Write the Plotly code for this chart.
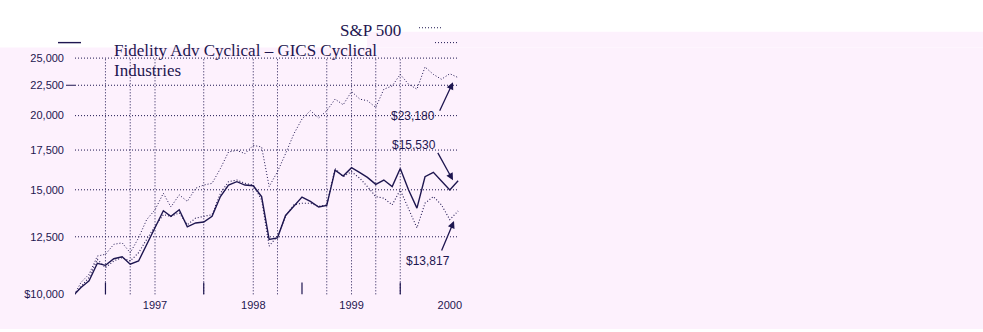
import pandas as pd
import plotly.graph_objects as go

# ---------------- data ----------------
dates = ["1996-03-08",
         "1996-04-01", "1996-05-01", "1996-06-01", "1996-07-01", "1996-08-01", "1996-09-01",
         "1996-10-01", "1996-11-01", "1996-12-01",
         "1997-01-01", "1997-02-01", "1997-03-01", "1997-04-01", "1997-05-01", "1997-06-01",
         "1997-07-01", "1997-08-01", "1997-09-01", "1997-10-01", "1997-11-01", "1997-12-01",
         "1998-01-01", "1998-02-01", "1998-03-01", "1998-04-01", "1998-05-01", "1998-06-01",
         "1998-07-01", "1998-08-01", "1998-09-01", "1998-10-01", "1998-11-01", "1998-12-01",
         "1999-01-01", "1999-02-01", "1999-03-01", "1999-04-01", "1999-05-01", "1999-06-01",
         "1999-07-01", "1999-08-01", "1999-09-01", "1999-10-01", "1999-11-01", "1999-12-01",
         "2000-01-01", "2000-02-01"]

sp500 = [10000, 10470, 10810, 11600, 11680, 12140, 12210, 11750, 12450, 13360,
         13880, 14800, 14030, 14710, 14340, 15090, 15280, 15380, 16290, 17370, 17480, 17260,
         17820, 17710, 15190, 16090, 17260, 18640, 19740, 20390, 19820, 20390, 21320, 20860,
         21960, 21320, 21190, 20650, 22160, 22440, 23470, 22590, 22160, 24150, 23470, 23030,
         23530, 23180]

fidelity = [10000, 10270, 10540, 11280, 11190, 11480, 11570, 11240, 11380, 12140,
            12940, 13830, 13530, 13880, 12990, 13190, 13240, 13530, 14610, 15280, 15480, 15280,
            15240, 14610, 12370, 12450, 13580, 14060, 14580, 14340, 14030, 14120, 16190, 15820,
            16340, 16030, 15740, 15320, 15580, 15190, 16290, 14990, 13970, 15780, 16050, 15520,
            14990, 15530]

gics = [10000, 10300, 10680, 11450, 11090, 11380, 11530, 11380, 11750, 12370,
        13020, 13620, 13530, 13710, 13100, 13440, 13530, 13620, 14800, 15480, 15580, 15380,
        15280, 14430, 12060, 12530, 13530, 14150, 14240, 14240, 14060, 14150, 16290, 15780,
        16090, 15680, 15190, 14610, 14520, 14150, 14990, 13880, 12940, 14240, 14610, 14150,
        13360, 13817]

y_ticks = [10000, 12500, 15000, 17500, 20000, 22500, 25000]
y_ticktext = ["$10,000", "12,500", "15,000", "17,500", "20,000", "22,500", "25,000"]
x_ticks = ["1997-01-01", "1998-01-01", "1999-01-01", "2000-01-01"]
x_ticktext = ["1997", "1998", "1999", "2000"]
grid_dates = ["1996-07-01", "1996-10-01", "1997-01-01", "1997-07-01", "1998-01-01",
              "1998-04-01", "1998-10-01", "1999-01-01", "1999-04-01", "1999-07-01"]
mark_dates = ["1996-07-01", "1997-07-01", "1998-07-01", "1999-07-01"]
end_labels = ["$23,180", "$15,530", "$13,817"]
legend_top = "S&P 500"
legend_main = "Fidelity Adv Cyclical \u2013 GICS Cyclical"
legend_second = "Industries"

# ---------------- layout geometry ----------------
W, H = 983, 332
NAVY = "#1e1650"
PINK = "#fdf1fd"

px_per_day = 98.33 / 365.25
x_left, x_right = 75, 470
anchor_px = 155
anchor = pd.Timestamp("1997-01-01")
xr0 = anchor - pd.Timedelta(days=(anchor_px - x_left) / px_per_day)
xr1 = anchor + pd.Timedelta(days=(x_right - anchor_px) / px_per_day)

px_per_decade = 599.0
base_px = 297
y_bot, y_top = 300, 45
yr0 = 4 - (y_bot - base_px) / px_per_decade
yr1 = 4 + (base_px - y_top) / px_per_decade


def px(x):
    return x / W


def py(y):
    return 1 - y / H


fig = go.Figure()
fig.add_trace(go.Scatter(x=dates, y=sp500, mode="lines", name="S&P 500",
                         line=dict(color=NAVY, width=1, dash="1px,2px")))
fig.add_trace(go.Scatter(x=dates, y=gics, mode="lines", name="GICS Cyclical Industries",
                         line=dict(color=NAVY, width=1.1, dash="1px,2px")))
fig.add_trace(go.Scatter(x=dates, y=fidelity, mode="lines", name="Fidelity Adv Cyclical Industries",
                         line=dict(color=NAVY, width=1.4)))

shapes = [
    dict(type="rect", xref="paper", yref="paper", x0=0, x1=1, y0=0, y1=py(48),
         fillcolor=PINK, line=dict(width=0), layer="below"),
    dict(type="rect", xref="paper", yref="paper", x0=px(367), x1=1, y0=py(48), y1=py(32),
         fillcolor=PINK, line=dict(width=0), layer="below"),
]
for v in y_ticks[1:]:
    shapes.append(dict(type="line", xref="paper", yref="y", x0=px(75), x1=px(457), y0=v, y1=v,
                       line=dict(color=NAVY, width=1, dash="1px,2px"), layer="below"))
for d in grid_dates:
    shapes.append(dict(type="line", xref="x", yref="y", x0=d, x1=d, y0=y_ticks[0], y1=y_ticks[-1],
                       line=dict(color=NAVY, width=1, dash="1px,2px"), layer="below"))
for d in mark_dates:
    shapes.append(dict(type="line", xref="x", yref="paper", x0=d, x1=d, y0=py(297), y1=py(285),
                       line=dict(color=NAVY, width=1.2)))
# small dash at 22,500
shapes.append(dict(type="line", xref="paper", yref="y", x0=px(66), x1=px(75), y0=y_ticks[5], y1=y_ticks[5],
                   line=dict(color=NAVY, width=1)))
# legend samples
shapes.append(dict(type="line", xref="paper", yref="paper", x0=px(58), x1=px(81), y0=py(43), y1=py(43),
                   line=dict(color=NAVY, width=1.4)))
shapes.append(dict(type="line", xref="paper", yref="paper", x0=px(419), x1=px(442), y0=py(28), y1=py(28),
                   line=dict(color=NAVY, width=1, dash="1px,2px")))
shapes.append(dict(type="line", xref="paper", yref="paper", x0=px(435), x1=px(457), y0=py(43), y1=py(43),
                   line=dict(color=NAVY, width=1, dash="1px,2px")))

serif = dict(family="Liberation Serif, Times New Roman, serif", size=17, color=NAVY)
sans = dict(family="Liberation Sans, Arial, sans-serif", size=12, color=NAVY)

annotations = [
    dict(text=legend_top, x=px(370), y=py(31), xref="paper", yref="paper",
         showarrow=False, font=serif, xanchor="center", yanchor="middle"),
    dict(text=legend_main, x=px(112), y=py(51), xref="paper", yref="paper",
         showarrow=False, font=serif, xanchor="left", yanchor="middle"),
    dict(text=legend_second, x=px(112), y=py(71), xref="paper", yref="paper",
         showarrow=False, font=serif, xanchor="left", yanchor="middle"),
]
label_pos = [(413, 117), (414, 146), (428, 263)]
arrows = [((439, 113), (453, 83)), ((437, 153), (453, 182)), ((441, 254), (454, 223))]
for t, (lx, ly) in zip(end_labels, label_pos):
    annotations.append(dict(text=t, x=px(lx), y=py(ly), xref="paper", yref="paper",
                            showarrow=False, font=sans, xanchor="center", yanchor="middle"))
for (tx, ty), (hx, hy) in arrows:
    annotations.append(dict(text="", x=px(hx), y=py(hy), xref="paper", yref="paper",
                            showarrow=True, ax=tx - hx, ay=ty - hy, arrowhead=2, arrowsize=1.1,
                            arrowwidth=1.3, arrowcolor=NAVY, standoff=0, startstandoff=0))

fig.update_layout(
    width=W, height=H, autosize=False,
    margin=dict(l=0, r=0, t=0, b=0),
    paper_bgcolor="white", plot_bgcolor="rgba(0,0,0,0)",
    showlegend=False,
    shapes=shapes, annotations=annotations,
    xaxis=dict(type="date", domain=[px(x_left), px(x_right)], range=[xr0, xr1],
               tickvals=x_ticks, ticktext=x_ticktext, showgrid=False, zeroline=False,
               showline=False, ticks="", tickfont=dict(family="Liberation Sans, Arial", size=11, color=NAVY)),
    yaxis=dict(type="log", domain=[py(y_bot), py(y_top)], range=[yr0, yr1],
               tickvals=y_ticks, ticktext=y_ticktext, showgrid=False, zeroline=False,
               showline=False, ticks="", ticklabelstandoff=10,
               tickfont=dict(family="Liberation Sans, Arial", size=11, color=NAVY)),
)

fig.write_html("out.html")
